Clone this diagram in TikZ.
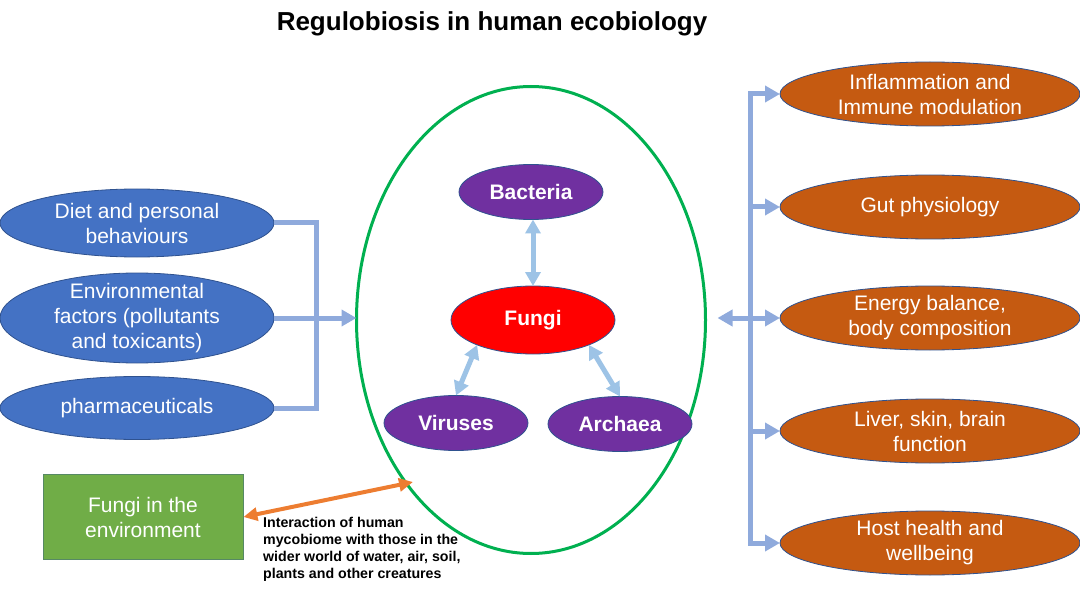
\documentclass[tikz,border=0pt]{standalone}
\usepackage{fontspec}
\setmainfont{Liberation Sans}
\usetikzlibrary{shapes.geometric,arrows.meta}
\definecolor{cblue}{HTML}{4472C4}
\definecolor{cedge}{HTML}{2F528F}
\definecolor{corange}{HTML}{C55A11}
\definecolor{cpurple}{HTML}{7030A0}
\definecolor{cgreen}{HTML}{00B050}
\definecolor{cbox}{HTML}{70AD47}
\definecolor{cconn}{HTML}{8FAADC}
\definecolor{cinner}{HTML}{9DC3E6}
\definecolor{carrow}{HTML}{ED7D31}
\tikzset{
  ell/.style={ellipse,draw=cedge,line width=0.8pt,inner sep=0pt,outer sep=0pt},
  blueell/.style={ell,fill=cblue,minimum width=274pt},
  oranell/.style={ell,fill=corange,minimum width=300pt,minimum height=64pt},
  purpell/.style={ell,fill=cpurple,minimum width=144pt,minimum height=55pt},
  txt/.style={text=white,align=center,font=\fontsize{21}{25}\selectfont,inner sep=0pt},
  btxt/.style={text=white,align=center,font=\fontsize{21}{25}\selectfont\bfseries,inner sep=0pt},
  conn/.style={draw=cconn,line width=5pt,arrows={-Triangle[length=15pt,width=16pt]}},
  inner/.style={draw=cinner,line width=5pt,arrows={Triangle[length=14pt,width=15pt]-Triangle[length=14pt,width=15pt]}},
}
\begin{document}
\begin{tikzpicture}[x=1pt,y=-1pt]
\useasboundingbox (0,0) rectangle (1080,591);
\node[font=\fontsize{26}{30}\selectfont\bfseries] (title) at (492,24) {Regulobiosis in human ecobiology};

% left ellipses
\node[blueell,minimum height=68pt] (L1) at (137,223) {};
\node[txt] (L1t) at (L1) {Diet and personal\\behaviours};
\node[blueell,minimum height=90pt] (L2) at (137,318) {};
\node[txt] (L2t) at (L2) {Environmental\\factors (pollutants\\and toxicants)};
\node[blueell,minimum height=63pt] (L3) at (137,408) {};
\node[txt] (L3t) at (L3) {pharmaceuticals};

% green ellipse
\node[ellipse,draw=cgreen,line width=3pt,minimum width=349pt,minimum height=467pt,inner sep=0pt,outer sep=0pt] (G) at (531,320) {};

% inner nodes
\node[purpell] (B) at (531,192) {};
\node[btxt] (Bt) at (B) {Bacteria};
\node[ell,fill=red,minimum width=164pt,minimum height=68pt] (F) at (533,320) {};
\node[btxt] (Ft) at (F) {Fungi};
\node[purpell] (V) at (456,423) {};
\node[btxt] (Vt) at (V) {Viruses};
\node[purpell] (A) at (620,424) {};
\node[btxt] (At) at (A) {Archaea};

\draw[inner] (F.north |- B.south) -- (F.north);
\draw[inner] (F.204) -- (V.north);
\draw[inner] (F.336) -- (A.north);

% left connectors
\coordinate (lx) at (316,0);
\draw[draw=cconn,line width=5pt] (L1.east) -- (L1.east -| lx) -- (L3.east -| lx) -- (L3.east);
\draw[conn] (L2.east) -- (L2.east -| G.west);

% right ellipses
\node[oranell] (R1) at (930,94) {};
\node[txt] (R1t) at (R1) {Inflammation and\\Immune modulation};
\node[oranell] (R2) at (930,207) {};
\node[txt] (R2t) at (R2) {Gut physiology};
\node[oranell] (R3) at (930,318) {};
\node[txt] (R3t) at (R3) {Energy balance,\\body composition};
\node[oranell] (R4) at (930,431) {};
\node[txt] (R4t) at (R4) {Liver, skin, brain\\function};
\node[oranell] (R5) at (930,543) {};
\node[txt] (R5t) at (R5) {Host health and\\wellbeing};

\coordinate (rx) at (750,0);
\draw[conn,arrows={Triangle[length=15pt,width=16pt]-Triangle[length=15pt,width=16pt]}] (R1.west) -- (R1.west -| rx) -- (R5.west -| rx) -- (R5.west);
\draw[conn] (R2.west -| rx) -- (R2.west);
\draw[conn] (R3.west -| rx) -- (R3.west);
\draw[conn] (R4.west -| rx) -- (R4.west);
\draw[conn,shorten >=12pt] (R3.west -| rx) -- (R3.west -| G.east);

% environment box
\node[draw=cedge!40!cbox,line width=0.8pt,fill=cbox,minimum width=200pt,minimum height=85pt,inner sep=0pt] (E) at (143,517) {};
\node[txt] (Et) at (E) {Fungi in the\\environment};
\coordinate (gp) at (413,482);
\draw[draw=carrow,line width=4pt,arrows={Triangle[length=14pt,width=13pt]-Triangle[length=14pt,width=13pt]}] (E.east) -- (gp);
\node[anchor=north west,align=left,inner sep=0pt,font=\fontsize{14.2}{17}\selectfont\bfseries] (cap) at (263,517) {Interaction of human\\mycobiome  with those in the\\wider world of water, air, soil,\\plants and other creatures};
\end{tikzpicture}
\end{document}
